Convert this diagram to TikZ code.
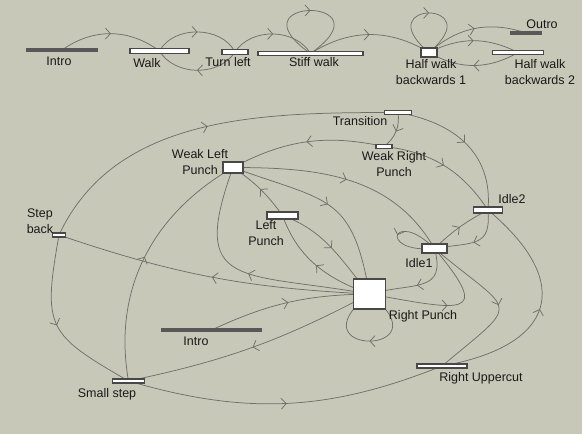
\documentclass[tikz,border=0pt]{standalone}
\usepackage{fontspec}
\setmainfont{Liberation Sans}
\usetikzlibrary{arrows.meta,decorations.markings,positioning}
\definecolor{canvas}{RGB}{200,200,185}
\definecolor{linegray}{RGB}{112,112,106}
\definecolor{boxline}{RGB}{72,72,72}
\definecolor{entrygray}{RGB}{88,88,88}
\pgfdeclarelayer{back}
\pgfsetlayers{back,main}

\begin{document}
\begin{tikzpicture}[x=1pt,y=1pt]
    \tikzstyle{state}=[draw=boxline,fill=white,line width=1.2pt,inner sep=0pt,minimum height=5pt]
    \tikzstyle{entry state}=[state,fill=entrygray,draw=entrygray,minimum height=3pt]
    \tikzstyle{annot}=[inner sep=0pt,align=center,text=black!90,font=\fontsize{12.5}{16.5}\selectfont]
    \tikzstyle{tr}=[draw=linegray,line width=0.75pt,postaction={decorate},
        decoration={markings,mark=at position 0.5 with {\arrow{Straight Barb[length=5pt,width=11pt]}}}]

    \useasboundingbox (0,0) rectangle (582,-434);

    % Top layer: walking states
    \node[entry state, minimum width=70pt] (introA) at (62,-50) {};
    \node[state, minimum width=59pt] (walk) at (159.5,-51) {};
    \node[state, minimum width=26pt, minimum height=4.5pt] (turnl) at (235,-52) {};
    \node[state, minimum width=105pt, minimum height=4pt] (stiff) at (310.5,-53.5) {};
    \node[state, minimum width=16pt, minimum height=9pt] (hw1) at (429,-52.5) {};
    \node[state, minimum width=51pt, minimum height=4pt] (hw2) at (518,-52.5) {};
    \node[entry state, minimum width=30pt] (outro) at (526,-33) {};

    \node[annot] (introA-l) at (59,-61) {Intro};
    \node[annot] (walk-l) at (147,-63) {Walk};
    \node[annot] (turnl-l) at (228,-62) {Turn left};
    \node[annot] (stiff-l) at (314,-62) {Stiff walk};
    \node[annot] (hw1-l) at (431,-72) {Half walk\\backwards 1};
    \node[annot] (hw2-l) at (540,-72) {Half walk\\backwards 2};
    \node[annot] (outro-l) at (542,-24) {Outro};

    % Fighting states
    \node[state, minimum width=27pt, minimum height=4pt] (transition) at (398,-112.5) {};
    \node[state, minimum width=16pt, minimum height=4pt] (wrp) at (384,-146.5) {};
    \node[state, minimum width=20pt, minimum height=11pt] (wlp) at (233,-167.5) {};
    \node[state, minimum width=31pt, minimum height=7pt] (lp) at (282.5,-215.5) {};
    \node[state, minimum width=13pt, minimum height=4pt] (stepb) at (59,-235) {};
    \node[state, minimum width=29pt, minimum height=6pt] (idle2) at (488,-210) {};
    \node[state, minimum width=25pt, minimum height=9pt] (idle1) at (434.5,-248.5) {};
    \node[state, minimum width=32pt, minimum height=30pt] (rp) at (369.5,-294) {};
    \node[entry state, minimum width=100pt] (introB) at (211.5,-330) {};
    \node[state, minimum width=32pt, minimum height=4pt] (smalls) at (128.5,-381) {};
    \node[state, minimum width=50pt, minimum height=4pt] (ru) at (442,-366) {};

    \node[annot] (transition-l) at (360,-121) {Transition};
    \node[annot] (wrp-l) at (394,-164) {Weak Right\\Punch};
    \node[annot] (wlp-l) at (200,-162) {Weak Left\\Punch};
    \node[annot] (lp-l) at (266,-233) {Left\\Punch};
    \node[annot] (stepb-l) at (40,-221) {Step\\back};
    \node[annot] (idle2-l) at (512,-199) {Idle2};
    \node[annot] (idle1-l) at (419,-263) {Idle1};
    \node[annot] (rp-l) at (423,-316) {Right Punch};
    \node[annot] (introB-l) at (196,-341) {Intro};
    \node[annot] (smalls-l) at (107,-394) {Small step};
    \node[annot] (ru-l) at (481,-378) {Right Uppercut};

    \begin{pgfonlayer}{back}
    \fill[canvas] (0,0) rectangle (582,-434);

    % Transitions of the walking layer
    \path (introA.center) edge[tr, bend left=36] (walk.center);
    \path (walk.center) edge[tr, bend left=62] (turnl.center);
    \path (turnl.center) edge[tr, bend left=58] (walk.center);
    \path (turnl.center) edge[tr, bend left=58] (stiff.center);
    \path (stiff.center) edge[tr, out=145, in=35, distance=100pt] (stiff.center);
    \path (stiff.center) edge[tr, bend left=32] (hw1.center);
    \path (hw1.center) edge[tr, out=140, in=40, distance=82pt] (hw1.center);
    \path (hw1.center) edge[tr, bend left=30] (outro.center);
    \path (hw1.center) edge[tr, bend left=27] (hw2.center);
    \path (hw2.center) edge[tr, bend left=30] (hw1.center);

    % Transitions of the fighting layer
    \path (stepb.center) edge[tr, out=65, in=180, looseness=0.95] (transition.center);
    \path (transition.center) edge[tr, bend left=30] (wrp.center);
    \path (transition.center) edge[tr, out=-10, in=85, looseness=1.1] (idle2.center);
    \path (wrp.center) edge[tr, bend right=20] (wlp.center);
    \path (wrp.center) edge[tr, bend left=25] (idle2.center);
    \path (wlp.center) edge[tr, out=0, in=120] (idle1.center);
    \path (wlp.center) edge[tr, out=-20, in=100, looseness=1.4] (rp.center);
    \path (rp.center) edge[tr, out=170, in=-110, looseness=1.8] (wlp.center);
    \path (lp.center) edge[tr, bend right=10] (wlp.center);
    \path (lp.center) edge[tr, out=-20, in=130] (rp.center);
    \path (rp.center) edge[tr, out=160, in=-70] (lp.center);
    \path (rp.center) edge[tr, bend left=8] (stepb.center);
    \path (introB.center) edge[tr, bend left=12] (rp.center);
    \path (rp.center) edge[tr, bend left=8] (smalls.center);
    \path (smalls.center) edge[tr, out=100, in=-150] (wlp.center);
    \path (stepb.center) edge[tr, out=-100, in=150, looseness=1.5] (smalls.center);
    \path (smalls.center) edge[tr, bend right=19] (ru.center);
    \path (ru.center) edge[tr, out=10, in=-40, looseness=1.8] (idle2.center);
    \path (idle1.center) edge[tr, out=-40, in=40, looseness=2.3] (ru.center);
    \path (idle1.center) edge[tr, out=-75, in=15, looseness=1.5] (rp.center);
    \path (rp.center) edge[tr, out=-10, in=-50, looseness=3] (idle1.center);
    \path (idle1.center) edge[tr, out=135, in=185, distance=58pt] (idle1.center);
    \path (idle1.center) edge[tr, bend left=8] (idle2.center);
    \path (idle2.center) edge[tr, out=-85, in=10, looseness=1.5] (idle1.center);
    \path (rp.center) edge[tr, out=-38, in=-142, distance=102pt] (rp.center);
    \end{pgfonlayer}
\end{tikzpicture}
\end{document}
